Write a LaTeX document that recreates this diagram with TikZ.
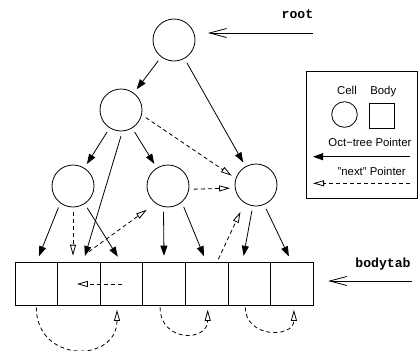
\documentclass[tikz,border=0pt]{standalone}
\usepackage{fontspec}
\setmainfont{Liberation Sans}
\setmonofont{Liberation Mono}
\usetikzlibrary{arrows.meta, positioning}
\tikzset{
  >={Triangle[length=10bp, width=7bp]},
  cell/.style={circle, draw, minimum size=42bp, inner sep=0pt, outer sep=5bp},
  body/.style={rectangle, draw, minimum size=42.6bp, inner sep=0pt, outer sep=0pt},
  flow/.style={->},
  flowd/.style={-{Triangle[open, length=11bp, width=6bp]}, dash pattern=on 4bp off 3bp},
  hook/.style={-{Straight Barb[length=17bp, width=9bp]}},
  lbl/.style={font=\fontsize{11.4}{13}\selectfont, inner sep=0pt, anchor=base},
  tag/.style={font=\fontsize{13.2}{15}\selectfont\ttfamily\bfseries, inner sep=0pt, anchor=base},
}

\begin{document}
\begin{tikzpicture}[x=1bp, y=-1bp, line width=0.8bp]
  \useasboundingbox (0,0) rectangle (419,351);
  % oct-tree cells
  \node[cell] (root) at (174,40) {};
  \node[cell] (l2) at (121,110) {};
  \node[cell] (l3a) at (73,186) {};
  \node[cell] (l3b) at (168,186) {};
  \node[cell] (l3c) at (256,185) {};
  % bodytab
  \node[body] (b1) at (36.3,284) {};
  \foreach \i [count=\j from 2] in {1,...,6}{ \node[body, right=0pt of b\i] (b\j) {}; }
  % tree pointers
  \draw[flow] (root) -- (l2);
  \draw[flow] (root) -- (l3c);
  \draw[flow] (l2) -- (l3a);
  \draw[flow] (l2) -- (l3b);
  \draw[flow, shorten >=7bp] (l2.south) -- ([xshift=4bp]b2.north);
  \draw[flow, shorten >=7bp] (l3a.236) -- (b1.north);
  \draw[flow, shorten >=7bp] (l3a.303) -- (b3.north);
  \draw[flow, shorten >=7bp] (l3b.260) -- (b4.north);
  \draw[flow, shorten >=7bp] (l3b.307) -- (b5.north);
  \draw[flow, shorten >=7bp] (l3c.261) -- ([xshift=-7bp]b6.north);
  \draw[flow, shorten >=7bp] (l3c.293) -- (b7.north);
  % next pointers
  \draw[flowd] (l2.-17) -- (l3c.159);
  \draw[flowd] (l3b.-7) -- (l3c.187);
  \draw[flowd, shorten >=7bp] (l3a.south) -- (l3a.south |- b2.north);
  \draw[flowd, shorten >=6bp] ([xshift=10bp, yshift=11bp]b2.north) -- (l3b.231);
  \draw[flowd, shorten <=4bp, shorten >=5bp] (b5) -- (l3c.239);
  \draw[flowd] (b3.center) -- ([xshift=-2bp]b2.center);
  \draw[flowd, shorten <=2bp, shorten >=4.5bp] (b1.south) .. controls +(0,58) and +(0,58) .. ([xshift=-4.5bp]b3.south);
  \draw[flowd, shorten <=2bp, shorten >=4.5bp] ([xshift=-4bp]b4.south) .. controls +(0,37) and +(0,37) .. ([xshift=1bp]b5.south);
  \draw[flowd, shorten <=2bp, shorten >=4.5bp] ([xshift=-4bp]b6.south) .. controls +(0,33) and +(0,33) .. ([xshift=2bp]b7.south);
  % entry points
  \node[tag] (rootlbl) at (297.5,18.5) {root};
  \coordinate (rootsrc) at (313,33);
  \draw[hook, shorten >=8bp] (rootsrc) -- (rootsrc -| root.east);
  \node[tag] (bodylbl) at (383,267) {bodytab};
  \coordinate (bodysrc) at (411.7,281);
  \draw[hook, shorten >=15bp] (bodysrc) -- (bodysrc -| b7.east);
  % key
  \node[draw, minimum width=111.6bp, minimum height=127bp, inner sep=0pt] (key) at (362,134.5) {};
  \node[cell, minimum size=25.6bp, outer sep=0pt] (kcell) at (344.5,114.5) {};
  \node[body, minimum size=25bp] (kbody) at (381.7,115.8) {};
  \node[lbl] (kcelllbl) at (347,94.3) {Cell};
  \node[lbl] (kbodylbl) at (383.3,94.3) {Body};
  \node[lbl] (ktreelbl) at (370,146.7) {Oct−tree Pointer};
  \coordinate (kt1) at (410,156.7);
  \coordinate (kt2) at (313,156.7);
  \draw[flow] (kt1) -- (kt2);
  \node[lbl] (knextlbl) at (371.7,175) {"next" Pointer};
  \coordinate (kn1) at (410,183.3);
  \coordinate (kn2) at (313,183.3);
  \draw[flowd] (kn1) -- (kn2);
\end{tikzpicture}
\end{document}
